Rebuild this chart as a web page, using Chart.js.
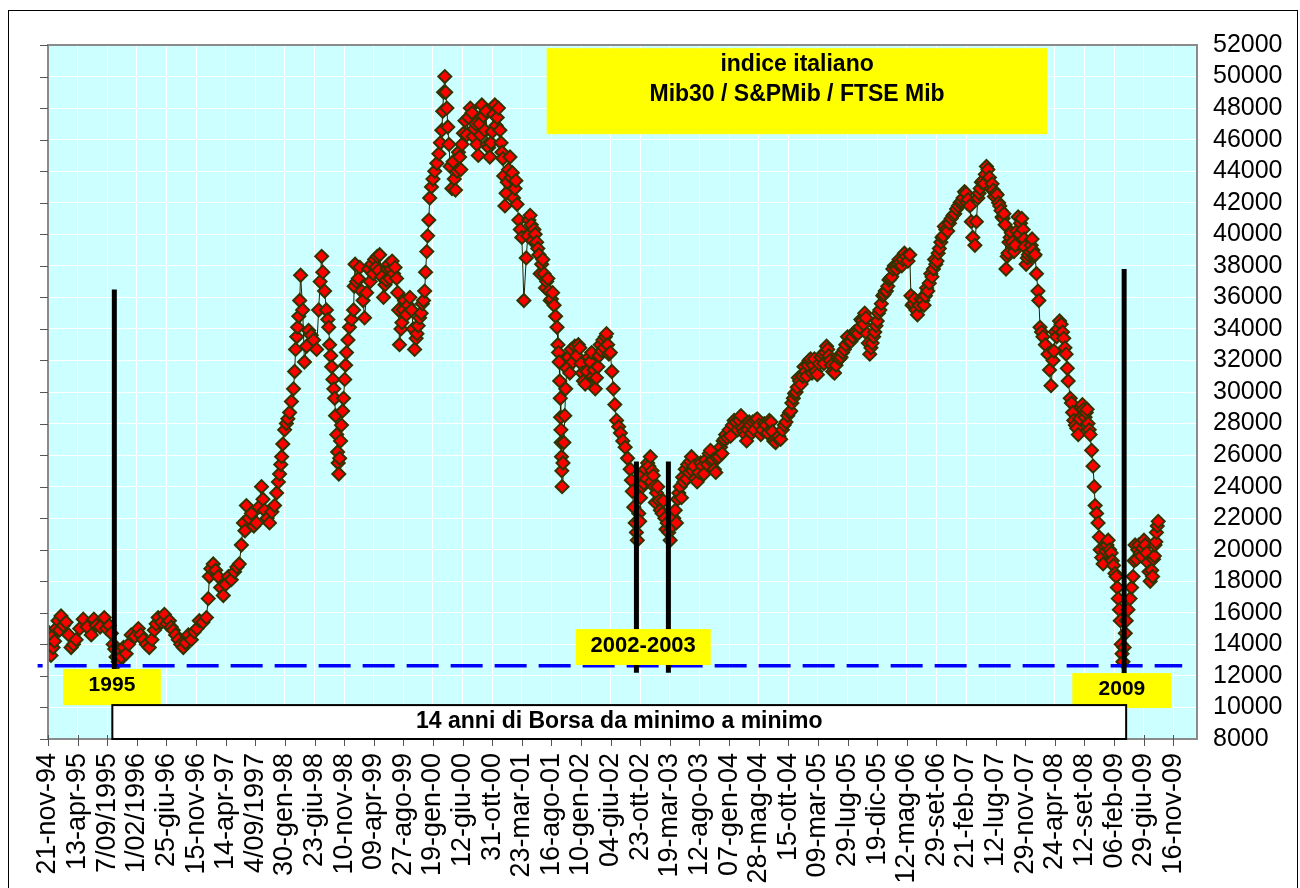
<!DOCTYPE html>
<html>
<head>
<meta charset="utf-8">
<script src="https://cdn.jsdelivr.net/npm/chart.js@4.4.1/dist/chart.umd.min.js"></script>
<style>
  html, body { margin: 0; padding: 0; background: #fff; }
  #wrap { width: 1300px; height: 888px; position: relative; }
</style>
</head>
<body>
<div id="wrap"><canvas id="graph" width="1300" height="888"></canvas></div>
<script>
// date labels, one every 100 trading days
var tickLabels = ['21-nov-94', '13-apr-95', '7/09/1995', '1/02/1996', '25-giu-96', '15-nov-96', '14-apr-97', '4/09/1997',
    '30-gen-98', '23-giu-98', '10-nov-98', '09-apr-99', '27-ago-99', '19-gen-00', '12-giu-00', '31-ott-00', '23-mar-01',
    '16-ago-01', '10-gen-02', '04-giu-02', '23-ott-02', '19-mar-03', '12-ago-03', '07-gen-04', '28-mag-04', '15-ott-04',
    '09-mar-05', '29-lug-05', '19-dic-05', '12-mag-06', '29-set-06', '21-feb-07', '12-lug-07', '29-nov-07', '24-apr-08',
    '12-set-08', '06-feb-09', '29-giu-09', '16-nov-09']

// [trading day, index value] - main path
var mibTrend = [[0,14800],[5,14600],[10,13300],[17,13800],[27,15000],[34,15500],[44,15800],[61,15400],[78,13800],[95,14300],
    [119,15600],[146,14600],[163,15200],[190,15700],[207,15200],[220,14000],[230,13200],[237,12900],[247,13200],[264,13400],
    [281,14600],[305,15000],[322,14300],[342,13800],[359,14900],[372,15700],[393,15900],[410,15500],[423,14900],[440,14300],
    [457,13800],[474,14600],[494,14800],[511,15500],[535,15700],[541,16900],[545,18300],[558,19100],[575,18300],[592,17100],
    [609,18300],[630,18600],[646,19100],[653,20300],[660,21700],[670,22800],[687,22300],[704,21700],[721,24000],[731,22500],
    [748,21700],[765,22800],[772,23600],[778,24300],[782,24800],[786,25400],[789,25900],[793,26700],[799,27600],[805,28000],
    [810,28300],[816,28700],[822,29400],[829,30200],[833,31300],[836,32700],[840,33500],[843,34100],[847,34800],[850,35800],
    [853,37400],[860,35200],[866,31900],[873,32900],[880,33900],[889,33600],[897,33300],[907,32700],[914,35200],[919,37000],
    [924,38600],[928,37600],[934,36400],[940,35200],[945,34600],[948,34100],[951,33000],[955,32300],[958,31600],[962,30800],
    [965,30200],[968,29600],[971,28500],[975,27300],[978,26200],[980,25500],[982,24800],[985,25800],[988,26900],[991,27900],
    [995,28800],[998,29600],[1002,30800],[1005,31700],[1008,32500],[1013,33300],[1018,34100],[1025,34600],[1032,35200],[1034,36700],
    [1037,38100],[1048,37200],[1059,36400],[1069,34700],[1076,36300],[1083,37800],[1093,38100],[1103,38400],[1112,38600],[1120,38700],
    [1127,37300],[1133,36000],[1142,37100],[1150,38100],[1158,37800],[1167,37500],[1177,37200],[1184,35200],[1187,33000],[1195,34400],
    [1204,35800],[1216,35500],[1228,35200],[1233,34000],[1238,32700],[1246,33700],[1255,34700],[1264,35600],[1272,36400],[1275,37600],
    [1279,38900],[1282,39900],[1286,40900],[1289,42300],[1295,43000],[1300,43500],[1306,44000],[1313,44500],[1320,45100],[1325,45800],
    [1330,46600],[1333,47800],[1336,49000],[1340,50000],[1343,49000],[1347,48000],[1350,46800],[1354,45700],[1358,44300],[1364,42900],
    [1372,43500],[1381,44000],[1390,44900],[1398,45700],[1408,47200],[1420,47400],[1432,47700],[1440,46700],[1448,45700],[1457,47000],
    [1465,48200],[1475,46600],[1483,45700],[1492,44900],[1500,46500],[1509,48200],[1517,47400],[1526,46600],[1533,45200],[1539,43700],
    [1543,41800],[1551,43300],[1560,44900],[1568,43900],[1577,42900],[1584,41900],[1590,40900],[1600,39800],[1607,35800],[1615,38500],
    [1624,40900],[1632,40600],[1641,40300],[1650,39500],[1658,38700],[1667,38100],[1675,37500],[1684,37000],[1692,36400],[1700,35900],
    [1709,35500],[1714,34800],[1719,34100],[1722,33000],[1724,32500],[1726,31900],[1728,30700],[1730,29600],[1731,28400],[1732,27600],
    [1733,26800],[1734,25900],[1735,25000],[1736,24000],[1739,25500],[1742,26800],[1745,28500],[1748,30200],[1752,31500],[1758,32200],
    [1767,32700],[1779,32900],[1791,33000],[1800,31800],[1808,30700],[1820,31300],[1831,31900],[1840,31000],[1848,30200],[1857,31600],
    [1865,33000],[1874,33300],[1882,33500],[1890,33000],[1899,32500],[1904,31300],[1909,30200],[1914,29200],[1920,28200],[1927,27800],
    [1933,27400],[1941,26900],[1949,26500],[1957,25800],[1966,25100],[1970,24400],[1973,23700],[1978,22700],[1983,21700],[1987,21100],
    [1990,20600],[1995,22300],[2001,23300],[2007,24000],[2017,25100],[2025,25500],[2034,25900],[2040,25000],[2047,24000],[2055,23600],
    [2064,23100],[2074,22300],[2083,22000],[2091,21700],[2096,21100],[2101,20600],[2108,21500],[2118,22500],[2126,23200],[2135,24000],
    [2143,24600],[2152,25100],[2160,25400],[2169,25600],[2177,25000],[2186,24500],[2198,24900],[2210,25300],[2221,25700],[2233,26100],
    [2241,25600],[2250,25100],[2260,25800],[2271,26500],[2280,26900],[2288,27300],[2300,27600],[2311,27900],[2323,28100],[2335,28200],
    [2345,27700],[2355,27300],[2363,27600],[2372,27900],[2380,28100],[2389,28200],[2401,27900],[2413,27600],[2425,27900],[2436,28200],
    [2446,27500],[2457,26800],[2468,27200],[2480,27600],[2492,28100],[2504,28700],[2512,29300],[2521,29900],[2530,30300],[2538,30700],
    [2548,31000],[2558,31300],[2566,31700],[2575,32100],[2584,31700],[2592,31300],[2604,31800],[2616,32400],[2624,32500],[2633,32700],
    [2641,32000],[2650,31300],[2661,31700],[2673,32100],[2683,32500],[2694,33000],[2705,33200],[2717,33500],[2729,33800],[2741,34100],
    [2749,34500],[2758,35000],[2766,33700],[2775,32400],[2783,33100],[2792,33800],[2800,34500],[2809,35200],[2819,36100],[2827,36400],
    [2836,36700],[2844,37200],[2853,37800],[2862,38000],[2870,38100],[2878,38200],[2887,38400],[2898,38600],[2910,38700],[2914,36100],
    [2922,35600],[2931,35200],[2942,35500],[2954,35800],[2963,36100],[2971,36400],[2981,37500],[2990,37800],[2998,38100],[3006,38800],
    [3015,39500],[3023,39900],[3032,40300],[3044,40700],[3056,41200],[3068,41600],[3080,42000],[3090,42300],[3100,42600],[3107,42200],
    [3113,41800],[3118,40800],[3123,39800],[3130,39300],[3135,40800],[3140,42300],[3148,42900],[3157,43400],[3165,43800],[3174,44100],
    [3184,42900],[3192,42800],[3201,42600],[3210,42000],[3218,41500],[3225,41000],[3232,40600],[3235,37800],[3242,38800],[3249,39800],
    [3257,39500],[3266,39300],[3271,40200],[3276,41100],[3284,40700],[3293,40300],[3298,39200],[3303,38100],[3311,38700],[3320,39300],
    [3326,39000],[3333,38700],[3338,37500],[3343,36400],[3346,35800],[3350,34100],[3355,33800],[3360,33500],[3368,33000],[3377,32400],
    [3382,31400],[3387,30400],[3394,32000],[3401,33800],[3411,34000],[3421,34300],[3430,33400],[3438,32400],[3442,31500],[3445,30700],
    [3452,29600],[3460,28700],[3469,27900],[3479,27300],[3489,29000],[3497,28900],[3506,28700],[3512,28000],[3519,27300],[3524,26300],
    [3529,25300],[3533,24000],[3536,22800],[3541,22300],[3546,21700],[3550,20800],[3553,20000],[3558,19500],[3563,19100],[3572,19900],
    [3580,20600],[3590,19800],[3598,19000],[3607,18300],[3611,17600],[3614,16900],[3618,16200],[3621,15500],[3624,14000],[3627,13400],
    [3630,12900],[3634,13800],[3638,14700],[3641,15500],[3647,16200],[3654,16900],[3659,17600],[3664,18300],[3668,19300],[3671,20300],
    [3680,20000],[3688,19800],[3697,20100],[3705,20300],[3714,19200],[3722,18000],[3727,18700],[3733,19400],[3738,20300],[3743,21100],
    [3749,21800]]

// extra readings inside the thick band (daily swings)
var mibBand = [[3,13600],[14,14500],[22,14200],[39,14900],[52,15200],[70,14600],[86,14000],[107,15000],[132,15100],[155,15600],
    [176,15100],[198,15000],[214,14700],[225,13700],[242,13600],[255,13800],[272,14000],[293,14500],[313,14600],[332,14000],
    [351,14300],[365,15300],[383,15400],[401,15300],[416,15100],[431,14600],[448,14000],[465,14100],[484,14300],[503,15000],
    [523,15400],[550,18800],[566,18700],[583,17600],[600,17800],[619,18100],[638,18900],[665,21200],[678,22000],[695,21500],
    [712,22700],[726,23200],[740,22000],[756,22400],
    [1042,37000],[1053,37900],[1064,35800],[1088,37000],[1098,37500],[1108,37900],[1116,37700],[1138,36800],[1146,37800],[1154,37200],
    [1162,38300],[1172,37900],[1181,36300],[1192,34000],[1200,35200],[1210,34900],[1222,36000],[1243,33400],[1250,34200],[1260,35000],
    [1268,35800],
    [1368,44600],[1376,42800],[1386,45200],[1394,44100],[1403,46400],[1414,46300],[1426,48000],[1436,46200],[1444,47000],[1453,45000],
    [1461,46300],[1470,47500],[1479,47800],[1488,45500],[1496,45800],[1505,47600],[1513,46900],[1521,48000],[1530,45800],[1536,44800],
    [1547,42600],[1555,44100],[1564,43600],[1572,42300],[1580,43400],[1595,40300],[1620,39900],[1628,41200],[1636,39600],[1645,40000],
    [1654,39100],[1662,37500],[1671,38400],[1680,36600],[1688,37200],[1696,35800],[1704,36300],
    [1762,31200],[1772,31900],[1785,32300],[1796,32800],[1804,31200],[1814,30500],[1826,32200],[1836,32500],[1844,31400],[1852,30900],
    [1861,32300],[1870,32600],[1878,32800],[1886,33700],[1894,32400],
    [1998,21800],[2004,24700],[2012,24200],[2021,24500],[2029,25300],[2037,24300],[2044,24700],[2051,23000],[2059,24000],[2068,22500],
    [2078,23100],[2087,21300],[2113,22000],[2122,21700],[2130,23600],[2139,23300],[2147,24300],[2156,24500],[2165,24900],[2173,25900],
    [2181,25300],[2192,24300],[2204,25500],[2215,24800],[2227,25400],[2237,26300],[2246,25700],[2255,24900],[2265,25900],[2276,26100],
    [2284,27000],[2294,27100],[2305,27200],[2317,28200],[2329,27600],[2340,28500],[2350,27500],[2359,26900],[2368,28100],[2376,27400],
    [2385,27600],[2395,28300],[2407,27300],[2419,28000],[2430,27400],[2441,28100],[2451,26900],[2462,27100],[2474,27000],[2486,27900],
    [2498,28500],[2508,28800],[2517,29600],[2526,30000],[2534,30900],[2543,30500],[2553,31600],[2562,31000],[2570,32000],[2580,31200],
    [2588,32100],[2598,31100],[2610,32200],[2620,31800],[2629,32900],[2637,32300],[2646,31700],[2656,31200],[2667,32200],[2678,32200],
    [2689,32700],[2700,33500],[2711,33200],[2723,33800],[2735,33700],[2745,34600],[2754,34300],[2762,34700],[2770,33100],[2779,32800],
    [2788,33500],[2796,34200],[2804,35000],[2814,35600],[2823,36200],[2831,36400],[2840,37100],[2849,37300],[2858,38000],[2866,37800],
    [2874,38400],[2883,38000],[2892,38800],[2904,38300],
    [2918,35500],[2926,35900],[2936,34900],[2948,35900],[2958,35500],[2967,36600],[2976,36900],[2985,37300],[2994,38400],[3002,38300],
    [3010,39100],[3019,39800],[3027,40500],[3038,40200],[3050,41000],[3062,41300],[3074,41800],[3085,42100],[3095,42700],[3103,42000],
    [3144,42600],[3152,43300],[3161,43200],[3169,44300],[3179,43600],[3188,43200],[3196,42400],[3205,42500],[3214,41800],[3222,41100],
    [3228,41300],[3239,38600],[3245,39500],[3253,40100],[3262,38900],[3280,40000],[3288,41000],[3296,39700],[3307,38500],[3316,38900],
    [3323,39700],[3329,38600],
    [3397,32600],[3406,33500],[3416,34500],[3426,33800],[3434,32800],[3456,29300],[3464,28200],[3474,27700],[3484,28300],[3493,29200],
    [3502,28400],[3509,28900],[3516,27600],
    [3568,20200],[3576,20300],[3585,20000],[3594,19300],[3603,18500],[3676,19400],[3684,20300],[3692,19600],[3701,20600],[3710,19800],
    [3718,18600],[3730,18300],[3736,19600],[3741,20500],[3746,21500]]

// black bars at the three lows
var minBarIdx = [224, 1987, 2095, 3634]
var minBarTop = [36500, 25600, 25600, 37800]
var minBarBottom = [12200, 12200, 12200, 8000]

// blue dashed support level
var supportLevel = 12650
var supportFrom = -35
var supportTo = 3830

var yMin = 8000, yMax = 52000, yStep = 2000
var xMax = 3880

var FONT = "'Liberation Sans', Arial, sans-serif"

// text boxes, placed in chart units
var noteBoxes = [
    { lines: ['indice italiano', 'Mib30 / S&PMib / FTSE Mib'], x0: 1684, x1: 3375, y0: 51800, y1: 46350, offs: [17, 47], size: 23 },
    { lines: ['1995'], x0: 51, x1: 381, y0: 12440, y1: 10150, offs: [16], size: 21 },
    { lines: ['2002-2003'], x0: 1782, x1: 2238, y0: 14970, y1: 12690, offs: [17], size: 22 },
    { lines: ['2009'], x0: 3459, x1: 3794, y0: 12180, y1: 9965, offs: [16], size: 21 }
]
var spanText = '14 anni di Borsa da minimo a minimo'
var spanTop = 10150

var decor = {
    id: 'decor',
    beforeDraw: function (chart) {
        var c = chart.ctx, a = chart.chartArea
        c.save()
        c.fillStyle = '#ccffff'
        c.fillRect(a.left, a.top, a.right - a.left, a.bottom - a.top)
        c.restore()
    },
    afterDraw: function (chart) {
        var c = chart.ctx, a = chart.chartArea
        var xs = chart.scales.x, ys = chart.scales.y
        c.save()

        // plot frame
        c.strokeStyle = '#8a8a8a'
        c.lineWidth = 2
        c.strokeRect(a.left, a.top, a.right - a.left, a.bottom - a.top)

        // tick marks: left side and crossing the bottom edge
        c.strokeStyle = '#555'
        c.lineWidth = 1
        c.beginPath()
        for (var v = yMin; v <= yMax; v += yStep) {
            var py = Math.round(ys.getPixelForValue(v)) + 0.5
            c.moveTo(a.left - 8, py)
            c.lineTo(a.left, py)
        }
        for (var i = 0; i < tickLabels.length; i++) {
            var px = Math.round(xs.getPixelForValue(i * 100)) + 0.5
            c.moveTo(px, a.bottom - 4)
            c.lineTo(px, a.bottom + 7)
        }
        c.stroke()

        // yellow notes
        noteBoxes.forEach(function (b) {
            var l = xs.getPixelForValue(b.x0), r = xs.getPixelForValue(b.x1)
            var t = ys.getPixelForValue(b.y0), btm = ys.getPixelForValue(b.y1)
            c.fillStyle = '#ffff00'
            c.fillRect(l, t, r - l, btm - t)
            c.fillStyle = '#000'
            c.font = 'bold ' + b.size + 'px ' + FONT
            c.textAlign = 'center'
            c.textBaseline = 'middle'
            b.lines.forEach(function (txt, k) {
                c.fillText(txt, (l + r) / 2, t + b.offs[k])
            })
        })

        // white span box from first to last low
        var sl = xs.getPixelForValue(minBarIdx[0]) - 2
        var sr = xs.getPixelForValue(minBarIdx[3]) + 2
        var st = ys.getPixelForValue(spanTop)
        c.fillStyle = '#fff'
        c.fillRect(sl, st, sr - sl, a.bottom - st)
        c.strokeStyle = '#000'
        c.lineWidth = 2
        c.strokeRect(sl, st, sr - sl, a.bottom - st)
        c.fillStyle = '#000'
        c.font = 'bold 23px ' + FONT
        c.textAlign = 'center'
        c.textBaseline = 'middle'
        c.fillText(spanText, (sl + sr) / 2, (st + a.bottom) / 2)

        // outer frame
        c.strokeStyle = '#000'
        c.lineWidth = 1
        c.strokeRect(8.5, 10.5, 1289, 900)
        c.restore()
    }
}

var mibSeries = mibTrend.concat(mibBand)
    .sort(function (a, b) { return a[0] - b[0] })
    .map(function (p) { return { x: p[0], y: p[1] } })

var datasets = []

minBarIdx.forEach(function (ix, k) {
    datasets.push({
        data: [{ x: ix, y: minBarBottom[k] }, { x: ix, y: minBarTop[k] }],
        showLine: true,
        borderColor: '#000',
        borderWidth: 5,
        borderCapStyle: 'butt',
        pointRadius: 0,
        order: 0
    })
})

datasets.push({
    data: [{ x: supportFrom, y: supportLevel }, { x: supportTo, y: supportLevel }],
    showLine: true,
    borderColor: '#0000ff',
    borderWidth: 3.5,
    borderDash: [32, 12],
    borderDashOffset: 27,
    borderCapStyle: 'butt',
    pointRadius: 0,
    clip: false,
    order: 1
})

datasets.push({
    data: mibSeries,
    showLine: true,
    borderColor: '#222200',
    borderWidth: 1,
    pointStyle: 'rectRot',
    pointRadius: 6.5,
    pointBackgroundColor: '#ff0000',
    pointBorderColor: '#333300',
    pointBorderWidth: 2,
    order: 2
})

var ctx = document.getElementById('graph').getContext('2d')
var chart = new Chart(ctx, {
    type: 'scatter',
    data: { datasets: datasets },
    options: {
        responsive: false,
        animation: false,
        devicePixelRatio: 1,
        layout: { padding: { left: 48, top: 45, right: 0, bottom: 0 } },
        plugins: { legend: { display: false }, tooltip: { enabled: false } },
        scales: {
            x: {
                type: 'linear',
                min: 0,
                max: xMax,
                afterFit: function (s) { s.height = 149 },
                grid: { color: '#ffffff', lineWidth: 1, drawTicks: false },
                border: { display: false },
                ticks: {
                    stepSize: 100,
                    autoSkip: false,
                    includeBounds: false,
                    maxRotation: 90,
                    minRotation: 90,
                    padding: 14,
                    color: '#000',
                    font: { family: FONT, size: 27 },
                    callback: function (v) {
                        var k = Math.round(v / 100)
                        return tickLabels[k] !== undefined ? tickLabels[k] : ''
                    }
                }
            },
            y: {
                type: 'linear',
                position: 'right',
                min: yMin,
                max: yMax,
                afterFit: function (s) { s.width = 103 },
                grid: { color: '#ffffff', lineWidth: 1, drawTicks: false },
                border: { display: false },
                ticks: {
                    stepSize: yStep,
                    autoSkip: false,
                    padding: 16,
                    color: '#000',
                    font: { family: FONT, size: 25 },
                    callback: function (v) { return String(v) }
                }
            }
        }
    },
    plugins: [decor]
})
</script>
</body>
</html>
